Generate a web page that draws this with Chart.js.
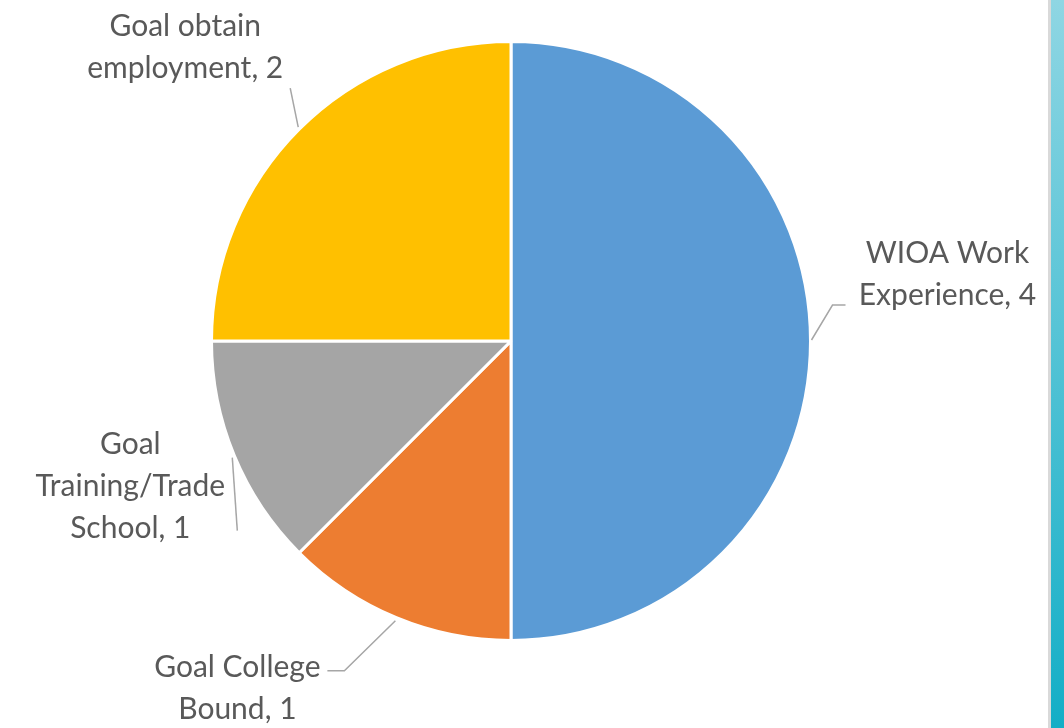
<!DOCTYPE html>
<html>
<head>
<meta charset="utf-8">
<script src="https://cdn.jsdelivr.net/npm/chart.js@4.4.1/dist/chart.umd.min.js"></script>
<style>
  html, body { margin: 0; padding: 0; background: #fff; }
  #wrap { position: relative; width: 1064px; height: 728px; overflow: hidden; }
  #box { position: absolute; left: 0; top: 0; width: 1048px; height: 728px; }
  #edge { position: absolute; left: 1048px; top: 0; width: 3px; height: 728px; background: #d9d9d9; }
  #band { position: absolute; left: 1051px; top: 0; width: 13px; height: 728px;
          background: linear-gradient(to bottom, #8fd6e3, #13aec6); }
</style>
</head>
<body>
<div id="wrap">
  <div id="box"><canvas id="pie"></canvas></div>
  <div id="edge"></div>
  <div id="band"></div>
</div>
<script>
// pie data
const categories = ['WIOA Work Experience', 'Goal College Bound', 'Goal Training/Trade School', 'Goal obtain employment']
const counts = [4, 1, 1, 2]
const colors = ['#5b9bd5', '#ed7d31', '#a5a5a5', '#ffc000']

// where each label sits, relative to the middle of its slice edge
const labelLayout = [
  { dx: 137, dy: -67, leader: [[1, -1], [22, -36], [35, -36]] },
  { dx: -159, dy: 71, leader: [[-1, 3], [-52, 53], [-69, 53]] },
  { dx: -104, dy: 31, leader: [[-2, 2], [3, 75]] },
  { dx: -114, dy: -82, leader: [[-1, -2], [-9, -41]] }
]

const labelFont = '30px Lato'
const lineHeight = 42
const wrapWidth = 230

function wrapText(ctx, text, maxW) {
  const words = text.split(' ')
  const lines = []
  let cur = ''
  for (const w of words) {
    const test = cur ? cur + ' ' + w : w
    if (cur && ctx.measureText(test).width > maxW) {
      lines.push(cur)
      cur = w
    } else {
      cur = test
    }
  }
  if (cur) lines.push(cur)
  return lines
}

const sliceLabels = {
  id: 'sliceLabels',
  afterDatasetsDraw(chart) {
    const ctx = chart.ctx
    const meta = chart.getDatasetMeta(0)
    ctx.save()
    ctx.font = labelFont
    ctx.textAlign = 'center'
    ctx.textBaseline = 'middle'
    meta.data.forEach((arc, i) => {
      const mid = (arc.startAngle + arc.endAngle) / 2
      const ax = arc.x + Math.cos(mid) * arc.outerRadius
      const ay = arc.y + Math.sin(mid) * arc.outerRadius
      const lay = labelLayout[i]

      // leader line
      ctx.strokeStyle = '#a6a6a6'
      ctx.lineWidth = 1.5
      ctx.beginPath()
      lay.leader.forEach((p, k) => {
        if (k === 0) ctx.moveTo(ax + p[0], ay + p[1])
        else ctx.lineTo(ax + p[0], ay + p[1])
      })
      ctx.stroke()

      // label text
      const txt = chart.data.labels[i] + ', ' + chart.data.datasets[0].data[i]
      const lines = wrapText(ctx, txt, wrapWidth)
      const cx = ax + lay.dx
      const top = ay + lay.dy - (lines.length - 1) * lineHeight / 2
      ctx.fillStyle = '#595959'
      lines.forEach((ln, k) => ctx.fillText(ln, cx, top + k * lineHeight))
    })
    ctx.restore()
  }
}

new Chart(document.getElementById('pie'), {
  type: 'pie',
  data: {
    labels: categories,
    datasets: [{
      data: counts,
      backgroundColor: colors,
      borderColor: '#ffffff',
      borderWidth: 3
    }]
  },
  options: {
    responsive: true,
    maintainAspectRatio: false,
    animation: false,
    layout: { padding: { top: 40, bottom: 86, left: 210, right: 236 } },
    plugins: {
      legend: { display: false },
      tooltip: { enabled: false }
    }
  },
  plugins: [sliceLabels]
})
</script>
</body>
</html>
